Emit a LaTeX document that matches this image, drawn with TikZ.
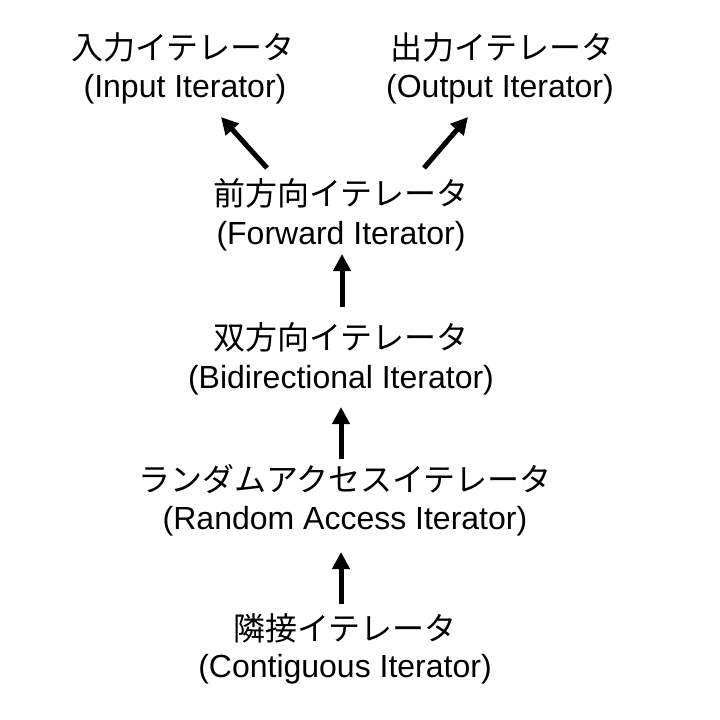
\documentclass[tikz,border=0pt]{standalone}
\usepackage{fontspec}
\setmainfont{Liberation Sans}
\newfontfamily\jpfont{Noto Sans CJK JP}
\usetikzlibrary{arrows.meta}
\begin{document}
\begin{tikzpicture}[x=1pt,y=-1pt,
  jp/.style={inner sep=0pt,anchor=base,font=\jpfont\fontsize{32}{38}\selectfont},
  en/.style={inner sep=0pt,anchor=base,font=\fontsize{32}{38}\selectfont},
  arr/.style={line width=5pt,-{Triangle[width=17pt,length=17pt]}}]
\useasboundingbox (0,0) rectangle (720,720);
\fill[white] (0,0) rectangle (720,720);
% input
\node[jp] (ij) at (183,59) {入力イテレータ};
\node[en] (ie) at (185,97) {(Input Iterator)};
% output
\node[jp] (oj) at (502,59) {出力イテレータ};
\node[en] (oe) at (500,97) {(Output Iterator)};
% forward
\node[jp] (fj) at (341,205) {前方向イテレータ};
\node[en] (fe) at (341,244) {(Forward Iterator)};
% bidirectional
\node[jp] (bj) at (341,349) {双方向イテレータ};
\node[en] (be) at (341,388) {(Bidirectional Iterator)};
% random access
\node[jp] (rj) at (345,491) {ランダムアクセスイテレータ};
\node[en] (re) at (345,529) {(Random Access Iterator)};
% contiguous
\node[jp] (cj) at (345,640) {隣接イテレータ};
\node[en] (ce) at (345,677) {(Contiguous Iterator)};
% arrows
\draw[arr] ([shift={(-74,-37)}]fj.base) -- ([shift={(36,20)}]ie.base);
\draw[arr] ([shift={(83,-37)}]fj.base) -- ([shift={(-32,20)}]oe.base);
\draw[arr] ([shift={(1,-42)}]bj.base) -- ([shift={(1,10)}]fe.base);
\draw[arr] ([shift={(-4,-32)}]rj.base) -- ([shift={(0,19)}]be.base);
\draw[arr] ([shift={(-4,-36)}]cj.base) -- ([shift={(-4,23)}]re.base);
\end{tikzpicture}
\end{document}
